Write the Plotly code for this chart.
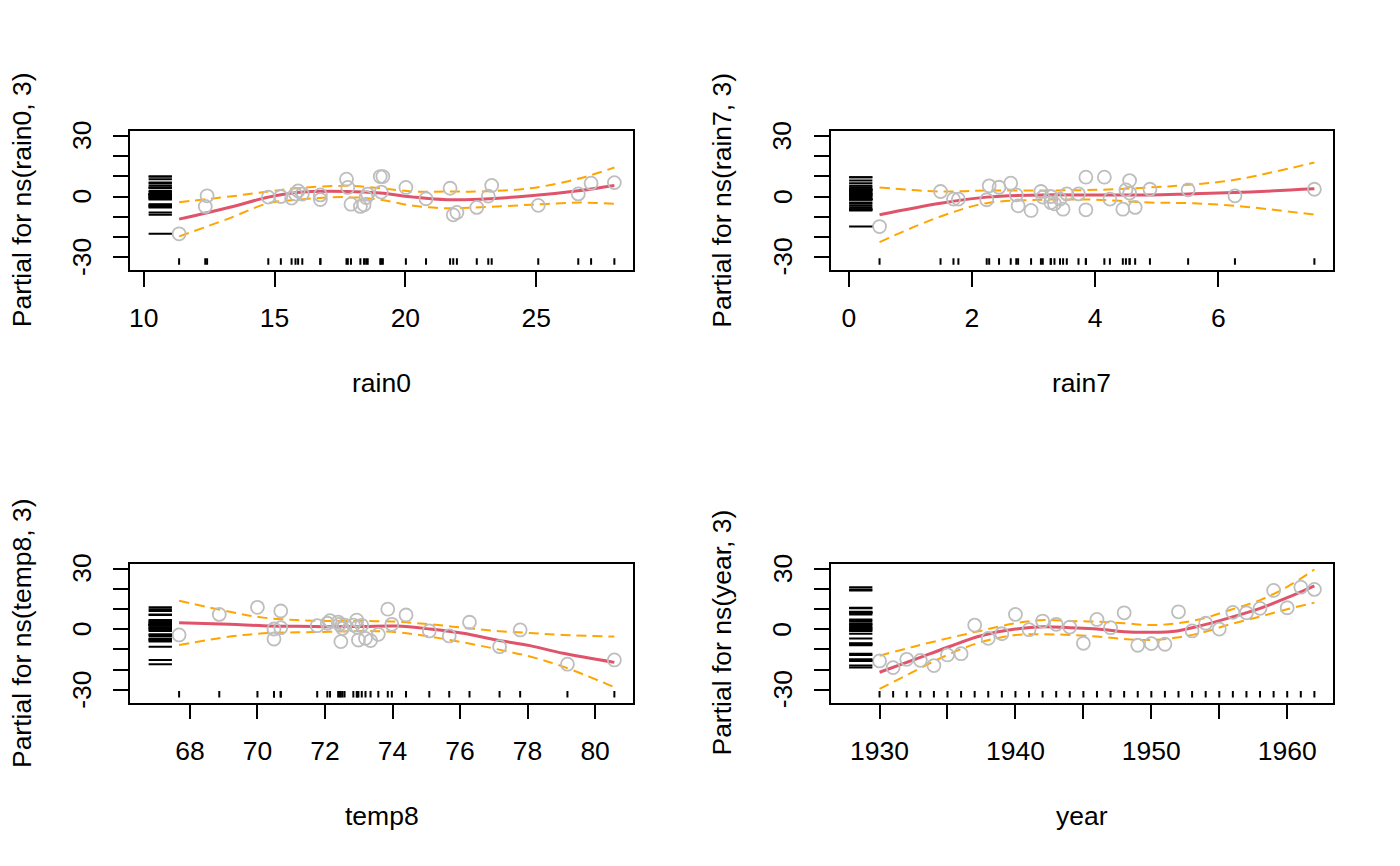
import plotly.graph_objects as go

# ---------------- data ----------------
rain0_x = [11.35, 12.35, 12.42, 14.76, 15.24, 15.65, 15.80, 15.90, 16.06, 16.75, 16.75,
           17.75, 17.80, 17.92, 18.28, 18.42, 18.50, 18.56, 19.04, 19.08, 19.14, 20.02,
           20.79, 21.71, 21.83, 21.97, 22.73, 23.17, 23.30, 25.08, 26.61, 27.10, 27.99]
rain0_pres = [-18.5, -4.9, 0.35, -0.3, 0.0, -0.8, 1.2, 2.8, 1.2, 0.8, -1.5,
              8.6, 4.5, -3.8, -4.9, -4.1, -0.5, 1.2, 9.9, 2.2, 9.9, 4.5,
              -1.1, 4.1, -9.1, -7.9, -5.4, 0.2, 5.5, -4.4, 1.3, 6.6, 6.9]
rain0_cx = [11.35, 13.29, 14.76, 15.84, 17.76, 19.04, 20.31, 21.59, 22.86, 24.78, 26.69, 27.99]
rain0_fit = [-11.2, -5.3, -0.3, 2.0, 2.5, 1.7, -0.3, -1.6, -1.3, 0.35, 3.0, 5.5]
rain0_up = [-2.8, 0.0, 2.5, 4.1, 5.3, 4.1, 2.5, 2.5, 2.5, 4.1, 9.1, 14.4]
rain0_lo = [-19.8, -10.7, -3.3, -1.6, -0.3, -1.6, -4.6, -5.8, -5.3, -4.1, -3.0, -3.6]

rain7_x = [0.50, 1.49, 1.70, 1.78, 2.24, 2.28, 2.44, 2.63, 2.72, 2.75, 2.96,
           3.12, 3.15, 3.28, 3.28, 3.34, 3.43, 3.48, 3.54, 3.73, 3.85, 3.85,
           4.15, 4.24, 4.45, 4.50, 4.56, 4.56, 4.65, 4.89, 5.51, 6.27, 7.56]
rain7_pres = [-14.9, 2.5, -1.3, -1.3, -1.6, 5.3, 4.6, 6.6, 0.8, -4.6, -6.9,
              2.5, -0.3, 0.0, -3.0, -3.6, -1.3, -6.3, 1.3, 1.3, 9.6, -6.6,
              9.6, -1.3, -6.3, 3.3, 7.9, 1.7, -5.4, 3.6, 3.3, 0.35, 3.6]
rain7_cx = [0.50, 1.49, 2.24, 3.16, 4.02, 4.89, 5.51, 6.27, 7.56]
rain7_fit = [-9.0, -3.3, -0.3, 0.8, 0.7, 0.8, 1.3, 2.0, 3.8]
rain7_up = [4.5, 2.5, 3.0, 3.0, 3.3, 4.5, 5.8, 8.3, 16.9]
rain7_lo = [-22.6, -9.9, -3.3, -1.6, -1.6, -3.0, -3.3, -4.6, -9.0]

temp8_x = [67.68, 68.87, 70.00, 70.49, 70.49, 70.69, 70.69, 71.77, 72.07, 72.15, 72.39,
           72.43, 72.47, 72.52, 72.58, 72.84, 72.94, 72.96, 72.99, 73.09, 73.20, 73.35,
           73.58, 73.86, 73.98, 74.40, 75.09, 75.68, 76.28, 77.17, 77.78, 79.18, 80.57]
temp8_pres = [-2.8, 7.4, 10.9, 0.15, -4.8, 9.1, 0.8, 1.8, 3.0, 4.3, 3.6,
              2.5, -6.1, 0.5, 2.1, 2.1, 4.6, 1.0, -5.3, 2.0, -4.5, -5.6,
              -2.5, 10.0, 2.5, 7.1, -0.8, -3.3, 3.5, -8.6, -0.3, -17.3, -15.2]
temp8_cx = [67.68, 69.18, 70.17, 71.16, 72.14, 73.13, 74.12, 75.10, 76.09, 77.08, 78.07, 79.05, 80.57]
temp8_fit = [3.3, 2.5, 1.8, 1.5, 1.3, 1.4, 1.6, 0.15, -2.0, -5.3, -8.1, -11.9, -16.4]
temp8_up = [14.2, 8.7, 5.8, 4.6, 4.1, 4.1, 3.8, 2.5, 0.8, -0.8, -1.8, -2.8, -3.6]
temp8_lo = [-7.8, -3.6, -2.0, -1.5, -1.2, -0.8, -1.5, -3.6, -6.5, -9.8, -13.5, -18.5, -28.7]

year_x = [1930, 1931, 1932, 1933, 1934, 1935, 1936, 1937, 1938, 1939, 1940,
          1941, 1942, 1943, 1944, 1945, 1946, 1947, 1948, 1949, 1950, 1951,
          1952, 1953, 1954, 1955, 1956, 1957, 1958, 1959, 1960, 1961, 1962]
year_pres = [-15.7, -19.0, -14.9, -15.4, -18.0, -12.7, -12.1, 2.1, -4.5, -2.2, 7.4,
             -0.2, 4.1, 2.5, 1.1, -6.9, 4.9, 0.8, 8.2, -7.9, -7.1, -7.4,
             8.7, -0.8, 3.0, 0.1, 8.4, 8.2, 10.4, 19.3, 10.7, 20.9, 19.8]
year_cx = [1930, 1932.5, 1935, 1937.4, 1940, 1942.1, 1944, 1946, 1948, 1949.9, 1951.9, 1953.8, 1955.8, 1958, 1960, 1962]
year_fit = [-21.3, -15.2, -8.9, -3.3, 0.15, 1.3, 0.8, 0.15, -1.2, -1.5, -0.8, 2.1, 5.8, 10.4, 15.7, 21.6]
year_up = [-13.1, -8.6, -4.5, -0.8, 3.0, 4.6, 4.1, 3.8, 3.0, 2.1, 3.0, 5.4, 9.6, 14.5, 21.1, 29.7]
year_lo = [-29.6, -21.0, -12.7, -6.5, -2.8, -2.5, -2.8, -3.6, -4.8, -5.3, -4.1, -1.5, 2.5, 6.3, 10.0, 13.2]

x_labels = ["rain0", "rain7", "temp8", "year"]
y_labels = ["Partial for ns(rain0, 3)", "Partial for ns(rain7, 3)",
            "Partial for ns(temp8, 3)", "Partial for ns(year, 3)"]
x_tickvals = [[10, 15, 20, 25], [0, 2, 4, 6], [68, 70, 72, 74, 76, 78, 80],
              [1930, 1940, 1950, 1960]]
x_minor_ticks = [[], [], [], [1930, 1935, 1940, 1945, 1950, 1955, 1960]]
y_tickvals = [-30, -20, -10, 0, 10, 20, 30]
y_ticktext = ["-30", "", "", "0", "", "", "30"]

# common y limits used by termplot (ylim = "common"), lower end extended for the rug
YLIM = (-33.8, 30.1)

# ---------------- layout geometry (pixels) ----------------
W, H = 1400, 866
boxes = [(130, 633, 130.7, 269.8), (830.5, 1333, 130.7, 269.8),
         (130, 633, 563.5, 702.6), (830.5, 1333, 563.5, 702.6)]

RED = "#DF536B"
ORANGE = "#FFA500"
GRAY = "#BEBEBE"
FONT = "Liberation Sans, Arial, sans-serif"
FS = 26.5
TXT = dict(family=FONT, size=FS, color="black")

panels = [
    (rain0_x, rain0_pres, rain0_cx, rain0_fit, rain0_up, rain0_lo),
    (rain7_x, rain7_pres, rain7_cx, rain7_fit, rain7_up, rain7_lo),
    (temp8_x, temp8_pres, temp8_cx, temp8_fit, temp8_up, temp8_lo),
    (year_x, year_pres, year_cx, year_fit, year_up, year_lo),
]

fig = go.Figure()
annotations = []
ydiff = YLIM[1] - YLIM[0]
yrange = [YLIM[0] - 0.04 * ydiff, YLIM[1] + 0.04 * ydiff]

for i, (xs, pres, cx, fit, up, lo) in enumerate(panels):
    k = i + 1
    xa = "x" if k == 1 else f"x{k}"
    ya = "y" if k == 1 else f"y{k}"
    l, r, t, b = boxes[i]
    xmin, xmax = min(xs), max(xs)
    xlim0 = xmin - 0.07 * (xmax - xmin)
    xdiff = xmax - xlim0
    xrange = [xlim0 - 0.04 * xdiff, xmax + 0.04 * xdiff]

    # fitted term
    fig.add_trace(go.Scatter(x=cx, y=fit, mode="lines", xaxis=xa, yaxis=ya,
                             line=dict(color=RED, width=3, shape="spline"),
                             showlegend=False, hoverinfo="skip"))
    # +/- 2 standard errors
    for band in (up, lo):
        fig.add_trace(go.Scatter(x=cx, y=band, mode="lines", xaxis=xa, yaxis=ya,
                                 line=dict(color=ORANGE, width=2, shape="spline",
                                           dash="10px,6px"),
                                 showlegend=False, hoverinfo="skip"))
    # partial residuals
    fig.add_trace(go.Scatter(x=xs, y=pres, mode="markers", xaxis=xa, yaxis=ya,
                             marker=dict(symbol="circle-open", size=13, color=GRAY,
                                         line=dict(width=1.8, color=GRAY)),
                             showlegend=False))
    # rugs (x values along the bottom, residuals along the left)
    rx, ry = [], []
    for v in xs:
        rx += [v, v, None]
        ry += [YLIM[0], YLIM[0] + 0.05 * ydiff, None]
    for v in pres:
        rx += [xlim0, xlim0 + 0.05 * xdiff, None]
        ry += [v, v, None]
    fig.add_trace(go.Scatter(x=rx, y=ry, mode="lines", xaxis=xa, yaxis=ya,
                             line=dict(color="black", width=2),
                             showlegend=False, hoverinfo="skip"))

    xt = x_minor_ticks[i] if x_minor_ticks[i] else x_tickvals[i]
    xtext = [str(v) if v in x_tickvals[i] else "" for v in xt]
    axis_common = dict(showline=True, mirror=True, linecolor="black", linewidth=1.5,
                       ticks="outside", ticklen=15, tickwidth=1.5, tickcolor="black",
                       showgrid=False, zeroline=False, tickfont=TXT)
    fig.layout[f"xaxis{'' if k == 1 else k}"] = dict(
        domain=[l / W, r / W], range=xrange, anchor=ya,
        tickmode="array", tickvals=xt, ticktext=xtext, ticklabelstandoff=9,
        **axis_common)
    fig.layout[f"yaxis{'' if k == 1 else k}"] = dict(
        domain=[1 - b / H, 1 - t / H], range=yrange, anchor=xa,
        tickmode="array", tickvals=y_tickvals, ticktext=[""] * len(y_tickvals),
        **axis_common)

    # y tick labels, rotated parallel to the axis (as R draws them)
    for v, s in zip(y_tickvals, y_ticktext):
        if s:
            annotations.append(dict(text=s, x=(l - 48) / W, y=v, xref="paper", yref=ya,
                                    showarrow=False, textangle=-90, xanchor="center",
                                    yanchor="middle", font=TXT))

    # axis titles
    annotations.append(dict(text=x_labels[i], x=(l + r) / 2 / W, y=1 - (b + 113) / H,
                            xref="paper", yref="paper", showarrow=False,
                            xanchor="center", yanchor="middle", font=TXT))
    annotations.append(dict(text=y_labels[i], x=(l - 108) / W, y=1 - (t + b) / 2 / H,
                            xref="paper", yref="paper", showarrow=False, textangle=-90,
                            xanchor="center", yanchor="middle", font=TXT))

fig.update_layout(width=W, height=H, margin=dict(l=0, r=0, t=0, b=0),
                  paper_bgcolor="white", plot_bgcolor="white",
                  annotations=annotations, showlegend=False)

fig.write_html("out.html")
